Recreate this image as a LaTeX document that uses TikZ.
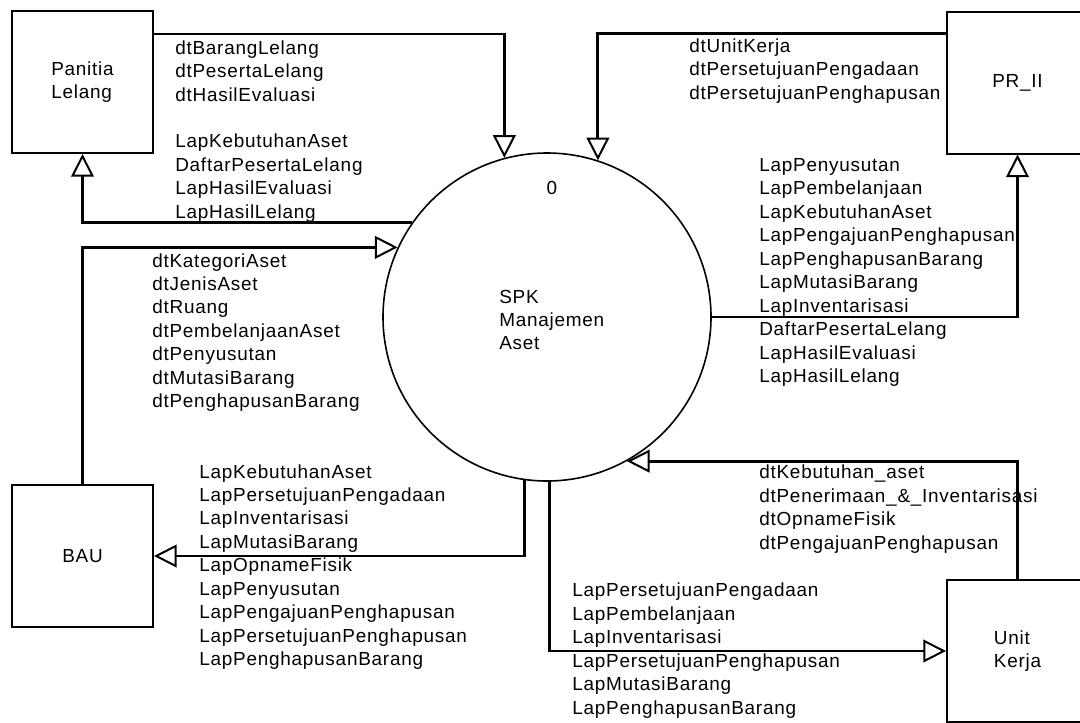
\documentclass[tikz,border=0pt]{standalone}
\usepackage{fontspec}
\usetikzlibrary{arrows.meta,calc}
\newfontfamily\lblfam[LetterSpace=4]{Liberation Sans}
\newcommand{\lbl}{\lblfam\fontsize{14.2pt}{17.6pt}\selectfont}
\begin{document}
\begin{tikzpicture}[x=0.75pt,y=-0.75pt,
  entity/.style={draw, line width=1.5pt, minimum width=105.75pt, minimum height=106.5pt,
    inner sep=0pt, align=left, font=\lbl},
  proc/.style={draw, circle, line width=1.2pt, minimum size=246pt, inner sep=0pt},
  flowlbl/.style={anchor=west, align=left, inner sep=0pt, font=\lbl},
  flow/.style={line width=2.2pt, -{Triangle[open, length=17pt, width=17pt, line width=1.5pt]}}
]
\useasboundingbox (0,0) rectangle (1080,722);

% entities
\node[entity] (pan) at (82.5,82) {Panitia\\Lelang};
\node[entity] (pr) at (1017.5,82.5) {PR\_II};
\node[entity] (bau) at (82.5,556) {BAU};
\node[entity] (uk) at (1017.5,651) {Unit\\Kerja};

% process
\node[proc] (spk) at (547,317) {};
\node[font=\lbl, inner sep=0pt] (num) at (552,188) {0};
\node[flowlbl] (spktxt) at (499,320) {SPK\\Manajemen\\Aset};

% connectors
\draw[flow] ($(pan.north east)+(0,24)$) -| (spk.105.6);
\draw[flow] ($(pr.north west)+(0,23)$) -| (spk.72.6);
\draw[flow] (spk.145.5) -| (pan.south);
\draw[flow] (bau.north) |- (spk.155);
\draw[flow] (spk.east) -| (pr.south);
\draw[flow] (spk.262.6) |- (bau.east);
\draw[flow] (spk.-89.3) |- (uk.west);
\draw[flow] (uk.north) |- (spk.-61.4);

% labels
\node[flowlbl] (panA) at (175,71) {dtBarangLelang\\dtPesertaLelang\\dtHasilEvaluasi};
\node[flowlbl] (panB) at (175,178) {LapKebutuhanAset\\DaftarPesertaLelang\\LapHasilEvaluasi\\LapHasilLelang};
\node[flowlbl] (prA) at (689,71) {dtUnitKerja\\dtPersetujuanPengadaan\\dtPersetujuanPenghapusan};
\node[flowlbl] (prB) at (759,272.5) {LapPenyusutan\\LapPembelanjaan\\LapKebutuhanAset\\LapPengajuanPenghapusan\\LapPenghapusanBarang\\LapMutasiBarang\\LapInventarisasi\\DaftarPesertaLelang\\LapHasilEvaluasi\\LapHasilLelang};
\node[flowlbl] (bauA) at (152,332.5) {dtKategoriAset\\dtJenisAset\\dtRuang\\dtPembelanjaanAset\\dtPenyusutan\\dtMutasiBarang\\dtPenghapusanBarang};
\node[flowlbl] (bauB) at (199,567) {LapKebutuhanAset\\LapPersetujuanPengadaan\\LapInventarisasi\\LapMutasiBarang\\LapOpnameFisik\\LapPenyusutan\\LapPengajuanPenghapusan\\LapPersetujuanPenghapusan\\LapPenghapusanBarang};
\node[flowlbl] (ukA) at (759,509) {dtKebutuhan\_aset\\dtPenerimaan\_\&\_Inventarisasi\\dtOpnameFisik\\dtPengajuanPenghapusan};
\node[flowlbl] (ukB) at (572,650.5) {LapPersetujuanPengadaan\\LapPembelanjaan\\LapInventarisasi\\LapPersetujuanPenghapusan\\LapMutasiBarang\\LapPenghapusanBarang};
\end{tikzpicture}
\end{document}
